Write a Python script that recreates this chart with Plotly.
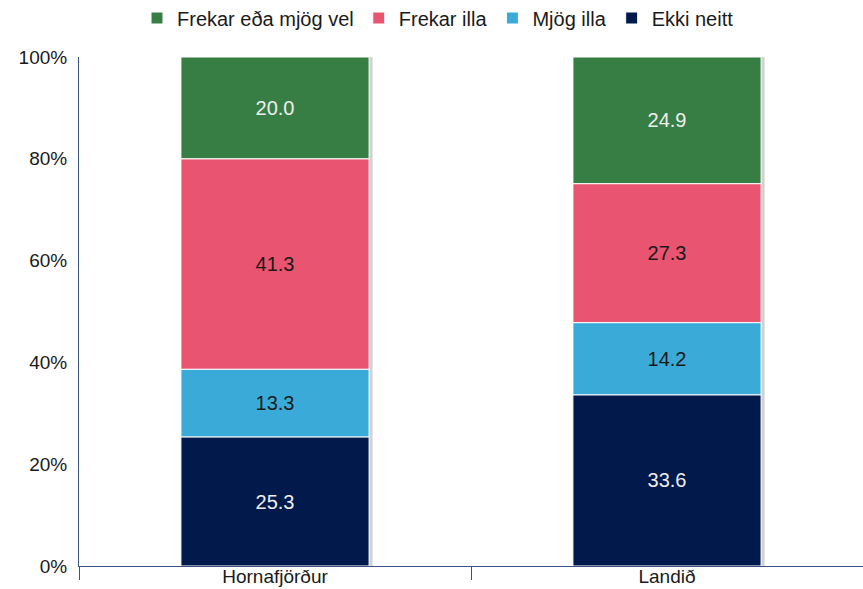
import numpy as np
import plotly.graph_objects as go

# Survey answers per area (percent)
categories = ["Hornafjörður", "Landið"]
ekki_neitt = [25.3, 33.6]
mjog_illa = [13.3, 14.2]
frekar_illa = [41.3, 27.3]
frekar_vel = [20.0, 24.9]
y_tick_values = [0, 20, 40, 60, 80, 100]

series = [
    ("Frekar eða mjög vel", frekar_vel, "#377e45", "#eeeeee"),
    ("Frekar illa", frekar_illa, "#e95470", "#1a1a1a"),
    ("Mjög illa", mjog_illa, "#3aabd8", "#1a1a1a"),
    ("Ekki neitt", ekki_neitt, "#011a4b", "#eeeeee"),
]

# stacking order is bottom-up: Ekki neitt, Mjög illa, Frekar illa, Frekar vel
stack_order = [ekki_neitt, mjog_illa, frekar_illa, frekar_vel]
vals = np.array(stack_order, dtype=float)
totals = vals.sum(axis=0)
shares = vals / totals * 100.0
bases = np.vstack([np.zeros(len(categories)), np.cumsum(shares, axis=0)[:-1]])
share_of = {id(v): (shares[i], bases[i]) for i, v in enumerate(stack_order)}

x = np.arange(len(categories))
BAR_W = 0.48
FONT = "Liberation Sans, Arial, sans-serif"
AXIS_COLOR = "#3a5284"
TEXT = "#1a1a1a"

fig = go.Figure()

# soft shadow on the right of each column (main x axis)
fig.add_trace(go.Bar(
    x=x, y=shares.sum(axis=0), base=np.zeros(len(categories)),
    width=BAR_W, offset=-BAR_W / 2 + 0.009,
    marker=dict(color="#d2d2d2", line=dict(width=0)),
    showlegend=False, hoverinfo="skip",
))

# stacked segments on the overlaid axis, which also carries the boundary ticks
for name, raw, color, txtcolor in series:
    h, b = share_of[id(raw)]
    fig.add_trace(go.Bar(
        name=name, x=x, y=h, base=b, xaxis="x2",
        width=BAR_W, offset=-BAR_W / 2,
        marker=dict(color=color, line=dict(color="white", width=1)),
        text=[f"{v:.1f}" for v in raw],
        textposition="inside", insidetextanchor="middle",
        textangle=0, constraintext="none",
        textfont=dict(family=FONT, size=20, color=txtcolor),
    ))

fig.update_layout(
    width=863, height=589,
    barmode="overlay",
    paper_bgcolor="white", plot_bgcolor="white",
    margin=dict(l=79, r=0, t=57, b=23),
    font=dict(family=FONT, size=19, color=TEXT),
    legend=dict(
        orientation="h", traceorder="normal",
        xref="container", yref="container",
        x=438 / 863, xanchor="center", y=1 - 18 / 589, yanchor="middle",
        font=dict(family=FONT, size=20, color=TEXT),
        itemwidth=30, tracegroupgap=0,
    ),
    xaxis=dict(
        range=[-0.5, 1.5], tickmode="array", tickvals=list(x), ticktext=categories,
        showline=True, linecolor=AXIS_COLOR, linewidth=1,
        showgrid=False, zeroline=False, ticks="", automargin=False,
        ticklabelstandoff=-7,
        tickfont=dict(family=FONT, size=19, color=TEXT),
    ),
    xaxis2=dict(
        overlaying="x", anchor="y", side="bottom",
        range=[-0.5, 1.5], tickmode="array", tickvals=[-0.5, 0.5, 1.5],
        ticks="outside", ticklen=13, tickcolor=AXIS_COLOR, tickwidth=1,
        showticklabels=False, showgrid=False, zeroline=False, showline=False,
        automargin=False,
    ),
    yaxis=dict(
        range=[0, 100], tickmode="array", tickvals=y_tick_values,
        ticktext=[f"{v}%" for v in y_tick_values],
        showline=True, linecolor=AXIS_COLOR, linewidth=1,
        showgrid=False, zeroline=False, ticks="", automargin=False,
        ticklabelstandoff=7,
        tickfont=dict(family=FONT, size=19, color=TEXT),
    ),
)

fig.write_html("out.html")
